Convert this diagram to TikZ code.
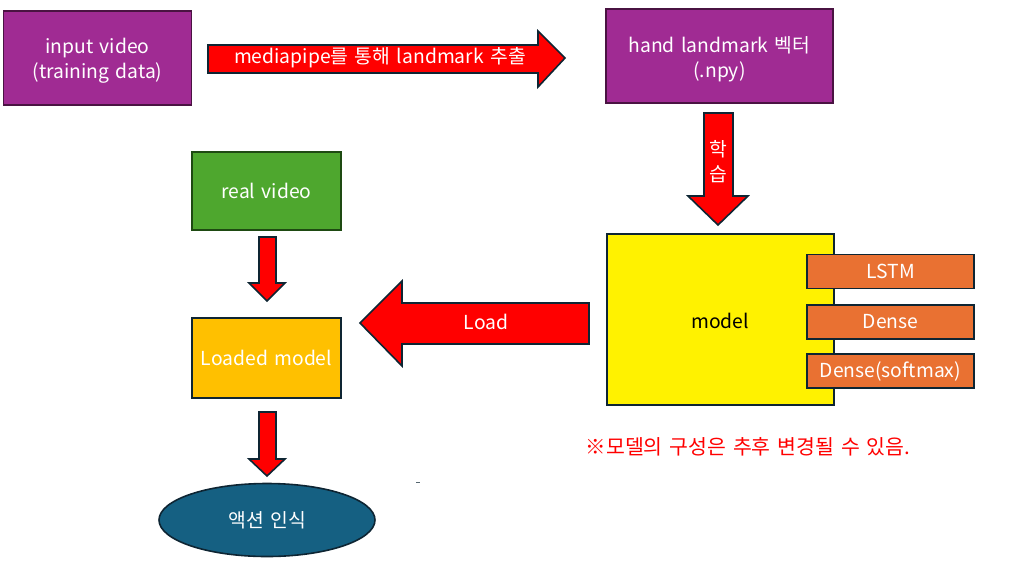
\documentclass[tikz,border=0pt]{standalone}
\usepackage{fontspec}
\setmainfont[WordSpace={1.5,0,0}]{Noto Sans CJK KR}
\usetikzlibrary{shapes.geometric}
\definecolor{vpurple}{HTML}{A02B93}
\definecolor{vpurpleb}{HTML}{4A1342}
\definecolor{vgreen}{HTML}{4EA72E}
\definecolor{vgreenb}{HTML}{1E4A12}
\definecolor{vorange}{HTML}{E97132}
\definecolor{vblue}{HTML}{156082}
\definecolor{vgold}{HTML}{FFC000}
\definecolor{vdark}{HTML}{0E2533}
\definecolor{vred}{HTML}{FF0000}
\begin{document}
\begin{tikzpicture}[x=1pt,y=-1pt,
  boxbase/.style={draw=vdark,line width=1.6pt,inner sep=0pt,align=center,text=white,
     font=\fontsize{19.3}{25}\selectfont},
  purplebox/.style={boxbase,fill=vpurple,draw=vpurpleb},
  layerbox/.style={boxbase,fill=vorange,minimum width=167pt,minimum height=34pt},
  blockarrow/.style={fill=vred,draw=vdark,line width=1.6pt,line join=miter},
  arrowtext/.style={text=white,font=\fontsize{19.3}{25}\selectfont,inner sep=0pt}]
\useasboundingbox (0,0) rectangle (1011,568);
% boxes
\node[purplebox,minimum width=188pt,minimum height=94pt] (input) at (97.5,58) {};
\node[text=white,font=\fontsize{19.3}{25}\selectfont,align=center] (inputtxt) at (97.5,61) {input video\\(training data)};
\node[purplebox,minimum width=227pt,minimum height=94pt] (hand) at (719.5,56) {};
\node[text=white,font=\fontsize{19.3}{25}\selectfont,align=center] (handtxt) at (719.5,59) {hand landmark 벡터\\(.npy)};
\node[boxbase,fill=yellow,text=black,minimum width=227pt,minimum height=171pt] (model) at (720.5,319.5) {};
\node[text=black,font=\fontsize{19.3}{25}\selectfont] (modeltxt) at (720,321) {model};
\node[layerbox] (lstm) at (890.5,271.5) {LSTM};
\node[layerbox] (dense) at (890.5,322) {Dense};
\node[layerbox] (soft) at (890.5,371) {Dense(softmax)};
\node[boxbase,fill=vgreen,draw=vgreenb,minimum width=149pt,minimum height=78pt] (real) at (266.5,191) {real video};
\node[boxbase,fill=vgold,minimum width=149pt,minimum height=80pt] (loaded) at (266.5,358) {Loaded model};
\node[ellipse,draw=vdark,line width=1.6pt,fill=vblue,minimum width=216pt,minimum height=73pt,inner sep=0pt,
  text=white,font=\fontsize{19.3}{25}\selectfont] (action) at (267,520) {액션 인식};
% block arrows
\draw[blockarrow] (208,45) -- (538,45) -- (538,31) -- (565,58) -- (538,87) -- (538,73) -- (208,73) -- cycle;
\node[arrowtext] (t1) at (380,58) {mediapipe를 통해 landmark 추출};
\draw[blockarrow] (704,113) -- (733,113) -- (733,196) -- (748,196) -- (718,225) -- (688,196) -- (704,196) -- cycle;
\node[arrowtext] (t2a) at (718,149) {학};
\node[arrowtext] (t2b) at (718,174) {습};
\draw[blockarrow] (589,303) -- (402,303) -- (402,281) -- (360,323) -- (402,366) -- (402,344) -- (589,344) -- cycle;
\node[arrowtext] (t3) at (486,322) {Load};
\draw[blockarrow] (259,237) -- (276,237) -- (276,283) -- (285,283) -- (267,301) -- (249,283) -- (259,283) -- cycle;
\draw[blockarrow] (259,412) -- (276,412) -- (276,459) -- (285,459) -- (267,476) -- (249,459) -- (259,459) -- cycle;
% note
\node[text=vred,font=\fontsize{20.5}{25}\selectfont,inner sep=0pt] (note) at (748,447) {※모델의 구성은 추후 변경될 수 있음.};
\draw[vdark!70,line width=0.8pt] (416,482) -- (420,482);
\end{tikzpicture}
\end{document}
